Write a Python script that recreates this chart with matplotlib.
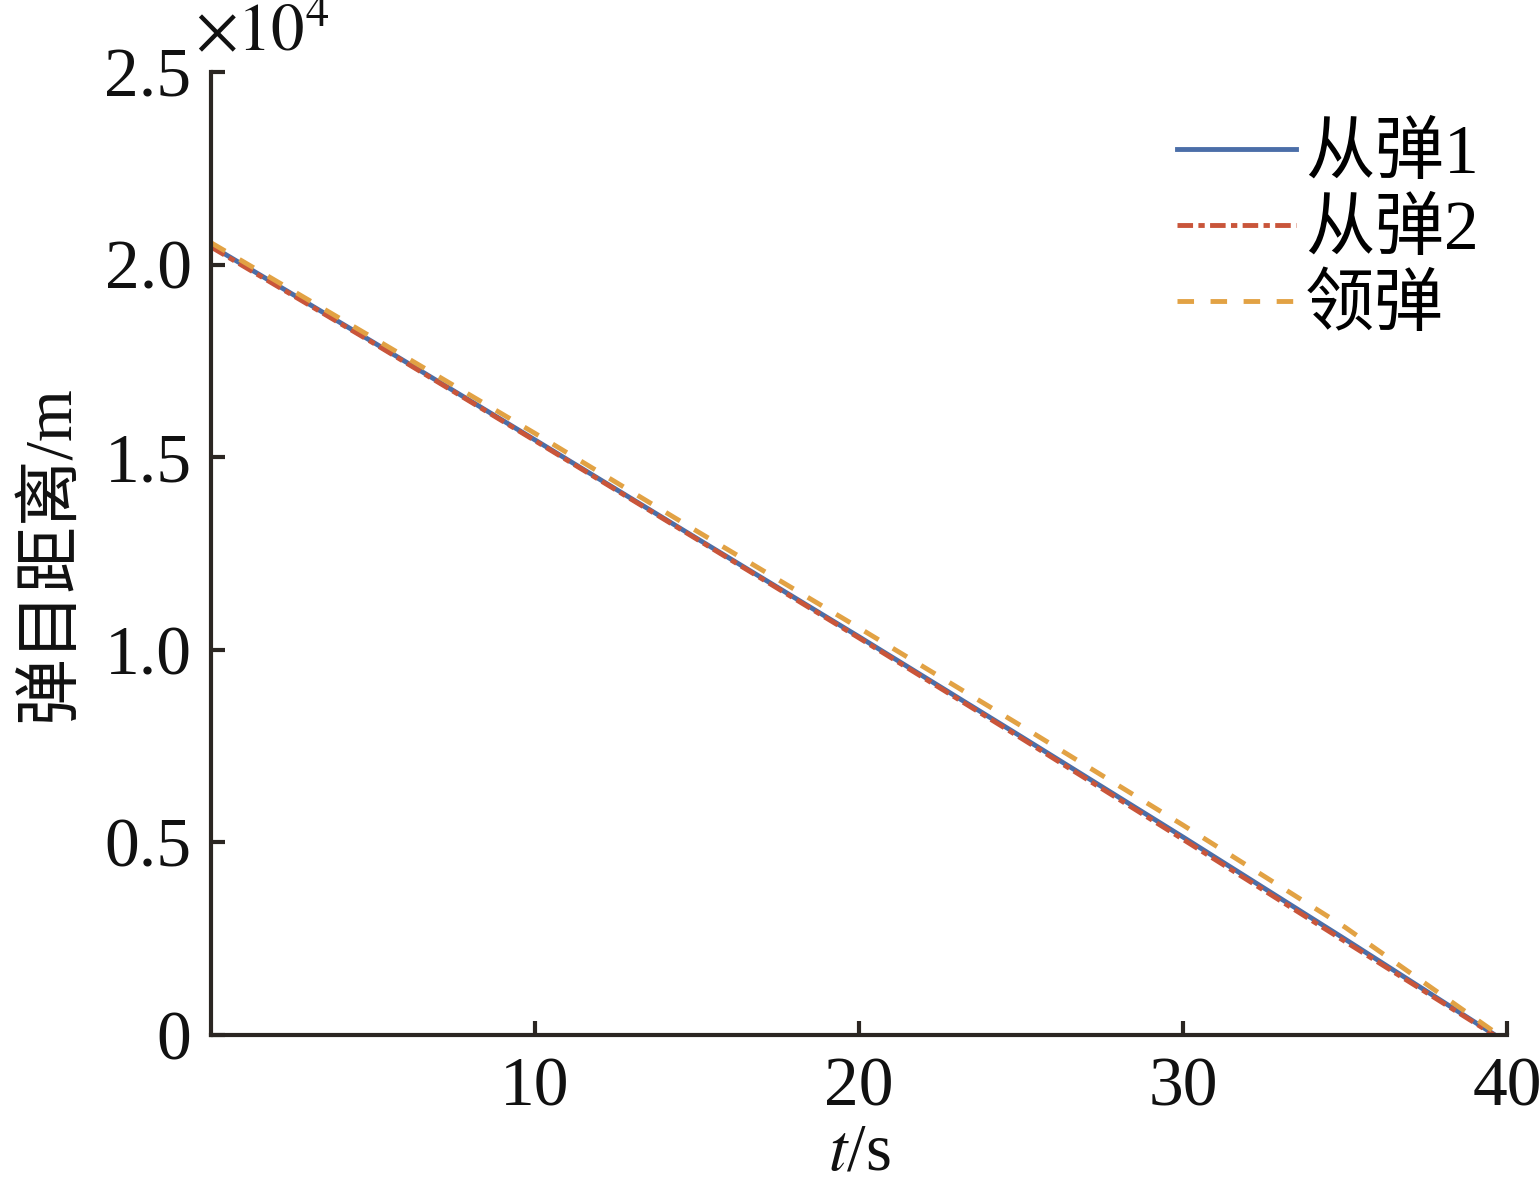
import matplotlib
matplotlib.use("Agg")
import matplotlib.pyplot as plt

plt.rcParams['font.family'] = ['Liberation Serif', 'Noto Sans CJK SC']
plt.rcParams['mathtext.fontset'] = 'stix'

# data (distance in units of 1e4 m)
t_follow1 = [0, 5, 10, 15, 20, 25, 30, 35, 39.63]
d_follow1 = [2.049, 1.799, 1.545, 1.289, 1.034, 0.775, 0.514, 0.249, 0.0]
t_follow2 = [0, 5, 10, 15, 20, 25, 30, 35, 39.6]
d_follow2 = [2.046, 1.797, 1.543, 1.287, 1.031, 0.771, 0.508, 0.243, 0.0]
t_lead = [0, 5, 10, 15, 20, 25, 30, 35, 39.75]
d_lead = [2.057, 1.810, 1.562, 1.308, 1.057, 0.803, 0.545, 0.280, 0.0]
labels = ['从弹1', '从弹2', '领弹']

x_ticks = [10, 20, 30, 40]
y_ticks = [0, 0.5, 1.0, 1.5, 2.0, 2.5]
y_tick_labels = ['0', '0.5', '1.0', '1.5', '2.0', '2.5']

c_blue = '#4b6ea8'
c_red = '#c9553a'
c_orange = '#e2a244'
c_axis = '#2b2622'
c_text = '#111111'

fig = plt.figure(figsize=(15.4, 11.87), dpi=100)
ax = fig.add_axes([0.137, 0.128, 0.8416, 0.8113])

ax.plot(t_follow1, d_follow1, color=c_blue, lw=3.5, label=labels[0])
ax.plot(t_follow2, d_follow2, color=c_red, lw=3.5, dashes=(3.2, 1.1, 1.3, 1.1), label=labels[1])
ax.plot(t_lead, d_lead, color=c_orange, lw=3.5, dashes=(3.4, 3.4), label=labels[2])

ax.set_xlim(0, 40)
ax.set_ylim(0, 2.5)
ax.set_xticks(x_ticks)
ax.set_xticklabels([str(v) for v in x_ticks])
ax.set_yticks(y_ticks)
ax.set_yticklabels(y_tick_labels)

for s in ['top', 'right']:
    ax.spines[s].set_visible(False)
for s in ['left', 'bottom']:
    ax.spines[s].set_linewidth(3)
    ax.spines[s].set_color(c_axis)
ax.tick_params(direction='in', length=10, width=3, color=c_axis,
               labelsize=50, labelcolor=c_text)
ax.tick_params(axis='x', pad=16)
ax.tick_params(axis='y', pad=14)

ax.text(-0.012, 1.008, r'$\times10^{4}$', transform=ax.transAxes,
        fontsize=48, ha='left', va='bottom', color=c_text)

ax.set_xlabel(r'$t$/s', fontsize=48, labelpad=1, color=c_text)
ax.set_ylabel('弹目距离/m', fontsize=48, labelpad=16, color=c_text)

leg = ax.legend(loc='upper left', bbox_to_anchor=(0.745, 0.946), frameon=False,
                fontsize=50, handlelength=1.72, handletextpad=0.13,
                labelspacing=0.17, borderpad=0, borderaxespad=0)

fig.savefig('out.png', dpi=100)
